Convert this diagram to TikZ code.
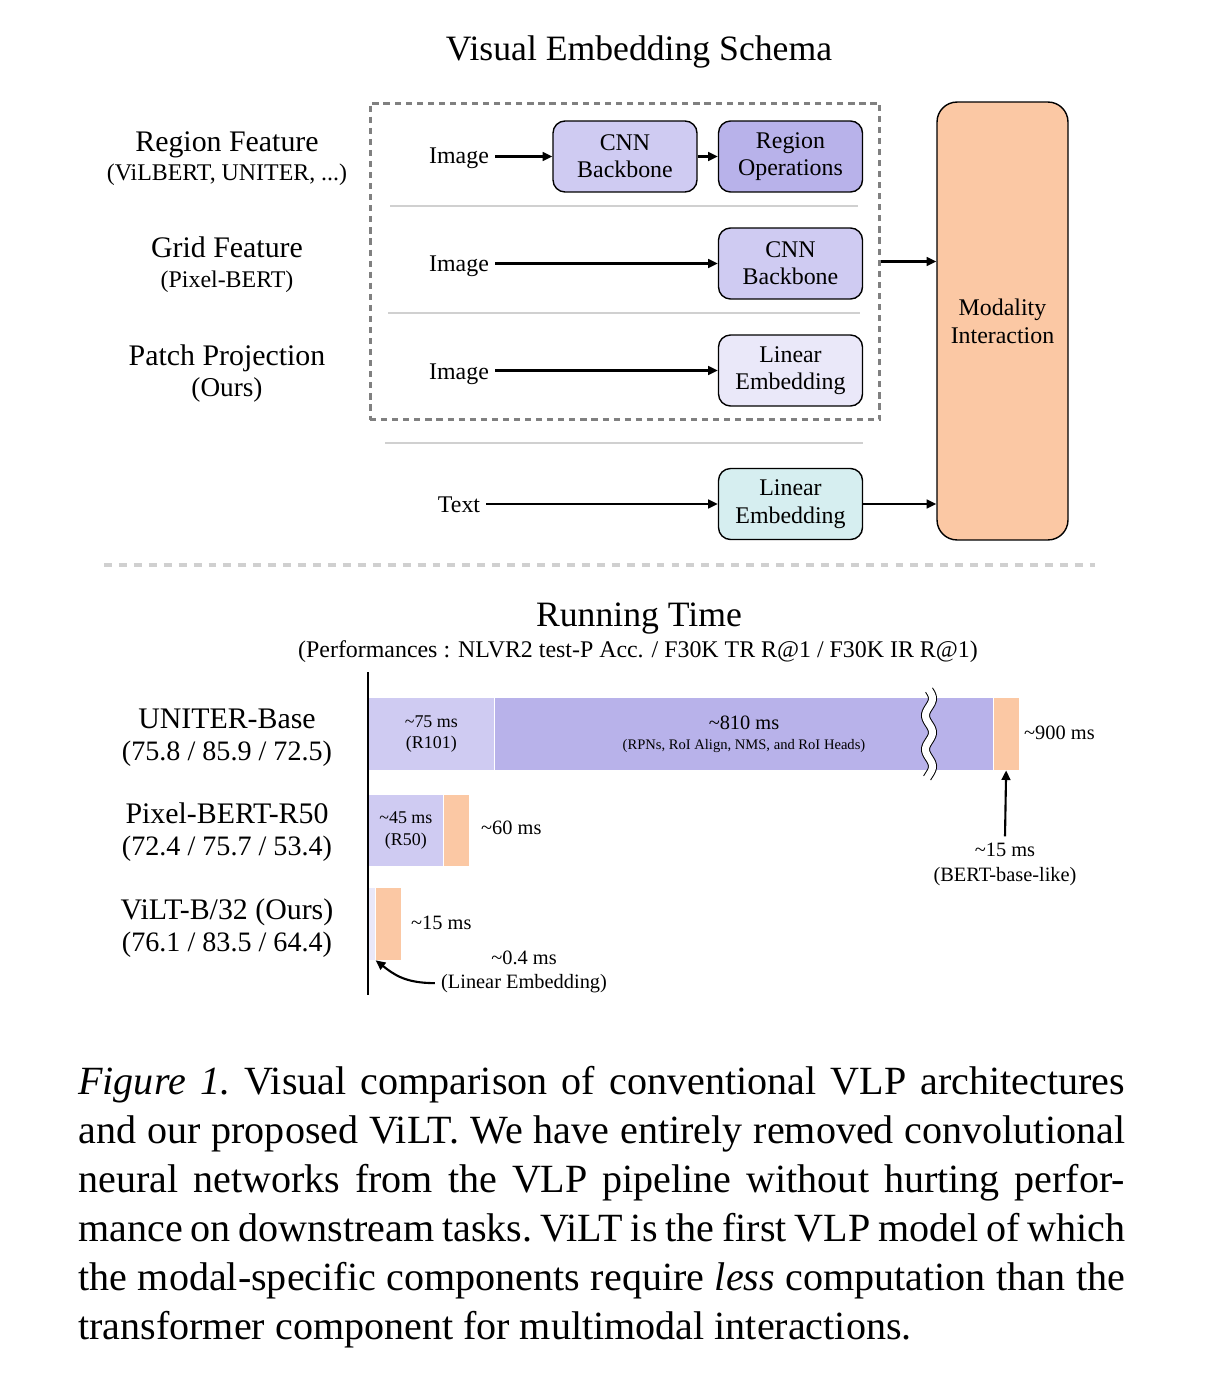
\documentclass[tikz,border=0pt]{standalone}
\usepackage{fontspec}
\setmainfont{Liberation Serif}
\usetikzlibrary{arrows.meta}

\definecolor{cnncol}{RGB}{207,203,242}
\definecolor{regcol}{RGB}{184,178,234}
\definecolor{patchcol}{RGB}{234,232,249}
\definecolor{textcol}{RGB}{214,238,240}
\definecolor{intercol}{RGB}{251,200,164}
\definecolor{sepcol}{RGB}{208,208,208}
\definecolor{dashcol}{RGB}{128,128,128}

\newcommand{\fHead}{\fontsize{20.3}{24}\selectfont}
\newcommand{\fRow}{\fontsize{17}{20}\selectfont}
\newcommand{\fScore}{\fontsize{16}{19}\selectfont}
\newcommand{\fOurs}{\fontsize{15.5}{18}\selectfont}
\newcommand{\fBox}{\fontsize{13.6}{15.6}\selectfont}
\newcommand{\fMs}{\fontsize{11.6}{14.2}\selectfont}
\newcommand{\fBar}{\fontsize{10.2}{12}\selectfont}
\newcommand{\fRpn}{\fontsize{8.3}{11.5}\selectfont}
\newcommand{\fCap}{\fontsize{22.8}{27.9}\selectfont\frenchspacing}

\begin{document}
\begin{tikzpicture}[x=0.02cm, y=-0.02cm, >={Triangle[length=5.5pt, width=5pt]}]
        \tikzstyle{block}=[draw, rounded corners=0.24cm, line width=0.8pt, minimum width=2.88cm, minimum height=1.42cm, align=center, inner sep=0pt, font=\fBox]
        \tikzstyle{bar}=[anchor=west, inner sep=0pt, minimum height=1.44cm, align=center]
        \tikzstyle{flow}=[->, line width=1.2pt]
        \tikzstyle{sep}=[sepcol, line width=1.6pt]

        \useasboundingbox (0,0) rectangle (1224,1382);

        % visual embedding schema
        \node[anchor=base, font=\fHead](title) at (639,61){Visual Embedding Schema};
        \node[draw=dashcol, line width=1.7pt, dash pattern=on 3.5pt off 2.8pt, minimum width=10.2cm, minimum height=6.34cm](vis) at (625,261.5){};

        \node[anchor=base, font=\fRow](regf) at (227,152){Region Feature};
        \node[anchor=base, font=\fBox](regs) at (227,181){(ViLBERT, UNITER, ...)};
        \node[anchor=base, font=\fRow](gridf) at (227,257){Grid Feature};
        \node[anchor=base, font=\fBox](grids) at (227,287){(Pixel-BERT)};
        \node[anchor=base, font=\fRow](patchf) at (227,365){Patch Projection};
        \node[anchor=base, font=\fOurs](patchs) at (227,396){(Ours)};

        \node[anchor=base, font=\fBox](img1) at (459,164){Image};
        \node[anchor=base, font=\fBox](img2) at (459,272){Image};
        \node[anchor=base, font=\fBox](img3) at (459,379){Image};
        \node[anchor=base, font=\fBox](txt) at (459,512){Text};

        \node[block, fill=cnncol](cnn1) at (625,156.5){CNN\\Backbone};
        \node[block, fill=regcol](roi) at (790.5,156.5){Region\\Operations};
        \node[block, fill=cnncol](cnn2) at (790.5,263.5){CNN\\Backbone};
        \node[block, fill=patchcol](patch) at (790.5,370.5){Linear\\Embedding};
        \node[block, fill=textcol](temb) at (790.5,504){Linear\\Embedding};
        \node[draw, line width=0.8pt, rounded corners=0.4cm, fill=intercol, minimum width=2.62cm, minimum height=8.76cm, align=center, font=\fontsize{13.6}{16}\selectfont](inter) at (1002.5,321){Modality\\Interaction};

        \draw[sep] (390,206) -- (858,206);
        \draw[sep] (388,313) -- (860,313);
        \draw[sep] (385,443) -- (863,443);

        \draw[flow] (img1.east |- cnn1) -- (cnn1);
        \draw[flow] (cnn1) -- (roi);
        \draw[flow] (img2.east |- cnn2) -- (cnn2);
        \draw[flow] (img3.east |- patch) -- (patch);
        \draw[flow] (txt.east |- temb) -- (temb);
        \draw[flow] (vis) -- (vis -| inter.west);
        \draw[flow] (temb) -- (temb -| inter.west);

        \draw[sepcol, line width=1.8pt, dash pattern=on 4.5pt off 4pt] (104,565) -- (1095,565);

        % running time
        \node[anchor=base, font=\fHead](rt) at (639,626){Running Time};
        \node[anchor=base, font=\fBox](perf) at (638,657){(Performances : NLVR2 test-P Acc. / F30K TR R@1 / F30K IR R@1)};

        \node[anchor=base, font=\fRow](m1) at (227,728){UNITER-Base};
        \node[anchor=base, font=\fScore](s1) at (227,760){(75.8 / 85.9 / 72.5)};
        \node[anchor=base, font=\fRow](m2) at (227,823){Pixel-BERT-R50};
        \node[anchor=base, font=\fScore](s2) at (227,855){(72.4 / 75.7 / 53.4)};
        \node[anchor=base, font=\fRow](m3) at (227,919){ViLT-B/32 (Ours)};
        \node[anchor=base, font=\fScore](s3) at (227,951){(76.1 / 83.5 / 64.4)};

        \node[bar, fill=cnncol, minimum width=2.52cm, font=\fBar](u1) at (368,734){\textasciitilde75 ms\\(R101)};
        \node[bar, fill=regcol, minimum width=9.96cm, font=\fRpn](u2) at (u1.east){{\fMs\textasciitilde810 ms}\\(RPNs, RoI Align, NMS, and RoI Heads)};
        \node[bar, fill=intercol, minimum width=0.5cm](u3) at (u2.east){};
        \draw[line width=0.18cm] plot[domain=0:88, samples=60] ({929+3.5*sin(\x*10.6)}, {690+\x});
        \draw[white, line width=0.14cm] plot[domain=-1:89, samples=60] ({929+3.5*sin(\x*10.6)}, {690+\x});

        \node[bar, fill=cnncol, minimum width=1.5cm, minimum height=1.42cm, font=\fBar](p1) at (368,830.5){\textasciitilde45 ms\\(R50)};
        \node[bar, fill=intercol, minimum width=0.5cm, minimum height=1.42cm](p2) at (p1.east){};

        \node[bar, fill=patchcol, minimum width=0.14cm](v1) at (368,924){};
        \node[bar, fill=intercol, minimum width=0.5cm](v2) at (v1.east){};

        \draw[line width=1.4pt] (368,672) -- (368,995);

        \node[anchor=base west, font=\fMs](t1) at (1018,739){\textasciitilde900 ms};
        \node[anchor=base west, font=\fMs](t2) at (475,834){\textasciitilde60 ms};
        \node[anchor=base west, font=\fMs](t3) at (405,929){\textasciitilde15 ms};
        \node[align=center, font=\fMs](bert) at (1005,864){\textasciitilde15 ms\\(BERT-base-like)};
        \node[anchor=base, font=\fMs](l04) at (524,964){\textasciitilde0.4 ms};
        \node[anchor=base, font=\fMs](linemb) at (524,988){(Linear Embedding)};

        \draw[flow] (bert.north) -- (u3.south);
        \draw[flow] (linemb.west) .. controls +(-30,0) and +(18,14) .. (v1.south east);

        % caption
        \node[anchor=north west, inner sep=0pt, text width=20.94cm, align=justify, font=\fCap](caption) at (78,1066){\textit{Figure 1.} Visual comparison of conventional VLP architectures\linebreak and our proposed ViLT. We have entirely removed convolutional\linebreak neural networks from the VLP pipeline without hurting perfor-\linebreak mance on downstream tasks. ViLT is the first VLP model of which\linebreak the modal-specific components require \textit{less} computation than the\linebreak transformer component for multimodal interactions.};

        \end{tikzpicture}
\end{document}
